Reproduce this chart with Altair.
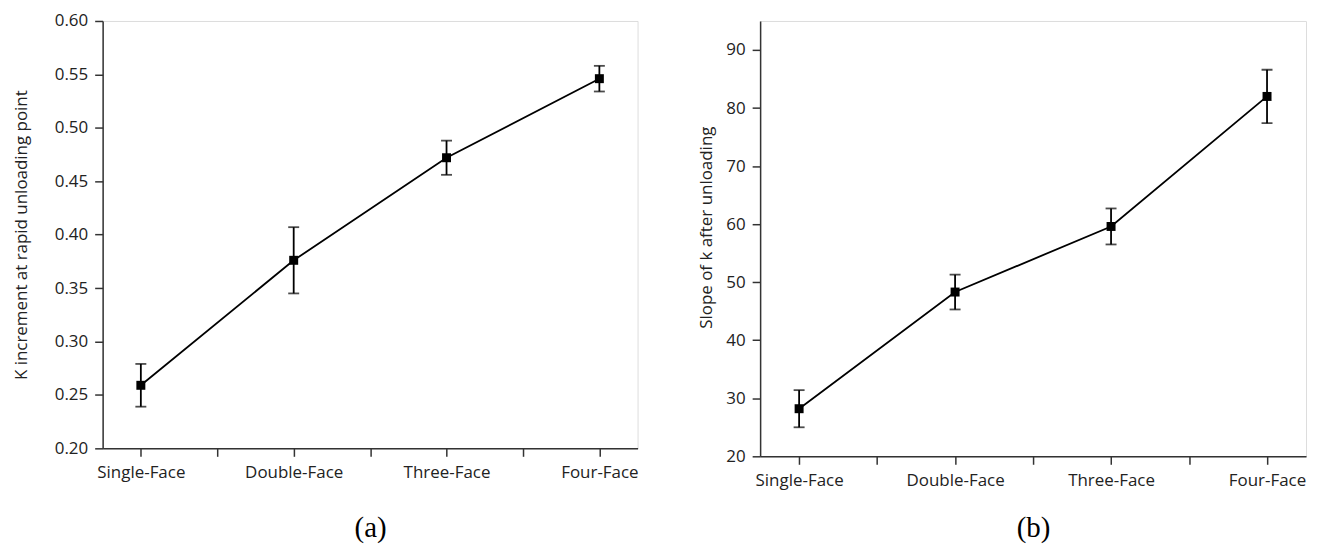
import json
import altair as alt
import pandas as pd

categories = ["Single-Face", "Double-Face", "Three-Face", "Four-Face"]
positions = [1, 2, 3, 4]
k_increment = [0.259, 0.376, 0.472, 0.546]
k_increment_err = [0.020, 0.031, 0.016, 0.012]
slope_k = [28.2, 48.3, 59.6, 82.0]
slope_k_err = [3.2, 3.0, 3.1, 4.6]

FONT = "Open Sans"
TXT = "#222222"
FS = 17

x_ticks = [1, 1.5, 2, 2.5, 3, 3.5, 4]
x_label_expr = (
    "datum.value % 1 == 0 ? " + json.dumps(categories) + "[datum.value - 1] : ''"
)


def panel(vals, errs, y_domain, y_values, major_test, label_fmt, y_title,
          x_title, w, h, title_pad, y_title_pad, y_title_y=None):
    df = pd.DataFrame({
        "x": positions,
        "cat": categories,
        "y": vals,
        "lo": [v - e for v, e in zip(vals, errs)],
        "hi": [v + e for v, e in zip(vals, errs)],
    })
    base = alt.Chart(df)
    x_axis = alt.Axis(
        values=x_ticks, labelExpr=x_label_expr, title=x_title,
        titleFont="Liberation Serif", titleFontSize=29, titleFontWeight="normal",
        titleColor="black", titlePadding=title_pad,
        labelFont=FONT, labelFontSize=FS, labelColor=TXT, labelPadding=8,
        tickSize=8, tickWidth=1.5, tickColor="#333", domainColor="#333",
        domainWidth=1.5, grid=False, labelAngle=0, labelFlush=False,
    )
    y_kwargs = dict(
        values=y_values,
        labelExpr="(" + major_test + ") ? format(datum.value, '" + label_fmt + "') : ''",
        title=y_title, titleFont=FONT, titleFontSize=FS, titleFontWeight="normal",
        titleColor=TXT, titlePadding=y_title_pad,
        labelFont=FONT, labelFontSize=FS, labelColor=TXT, labelPadding=7,
        tickSize={"condition": {"test": major_test, "value": 8}, "value": 5},
        tickWidth=1.5, tickColor="#333", domainColor="#333", domainWidth=1.5,
        grid=False, labelFlush=False,
    )
    if y_title_y is not None:
        y_kwargs["titleY"] = y_title_y
    y_axis = alt.Axis(**y_kwargs)
    X = alt.X("x:Q", scale=alt.Scale(domain=[0.75, 4.25], nice=False, zero=False), axis=x_axis)
    Y = alt.Y("y:Q", scale=alt.Scale(domain=y_domain, nice=False, zero=False), axis=y_axis)

    line = base.mark_line(color="black", strokeWidth=1.8).encode(x=X, y=Y)
    rule = base.mark_rule(color="black", strokeWidth=1.8).encode(
        x="x:Q", y="lo:Q", y2="hi:Q")
    cap_lo = base.mark_tick(color="black", orient="horizontal", size=11, thickness=1.8).encode(
        x="x:Q", y="lo:Q")
    cap_hi = base.mark_tick(color="black", orient="horizontal", size=11, thickness=1.8).encode(
        x="x:Q", y="hi:Q")
    pts = base.mark_square(color="black", size=81, opacity=1).encode(x="x:Q", y="y:Q")
    return alt.layer(line, rule, cap_lo, cap_hi, pts).properties(width=w, height=h)


ya_values = [round(0.2 + 0.025 * i, 3) for i in range(17)]
yb_values = [20 + 5 * i for i in range(15)]

pa = panel(k_increment, k_increment_err, [0.2, 0.6], ya_values,
           "abs(datum.value * 20 - round(datum.value * 20)) < 0.001", ".2f",
           "K increment at rapid unloading point", "(a)", 537, 429, 33, 24)
pb = panel(slope_k, slope_k_err, [20, 95], yb_values,
           "datum.value % 10 == 0", "d",
           "Slope of k after unloading", "(b)", 548, 437, 25, 10, 207)

chart = alt.hconcat(pa, pb, spacing=58).properties(
    padding={"left": 3, "top": 2, "right": 5, "bottom": 0}
).configure_view(stroke="#333", strokeWidth=1.5).configure(background="white")

chart.save("out.html", embed_options={"renderer": "svg", "actions": False})
